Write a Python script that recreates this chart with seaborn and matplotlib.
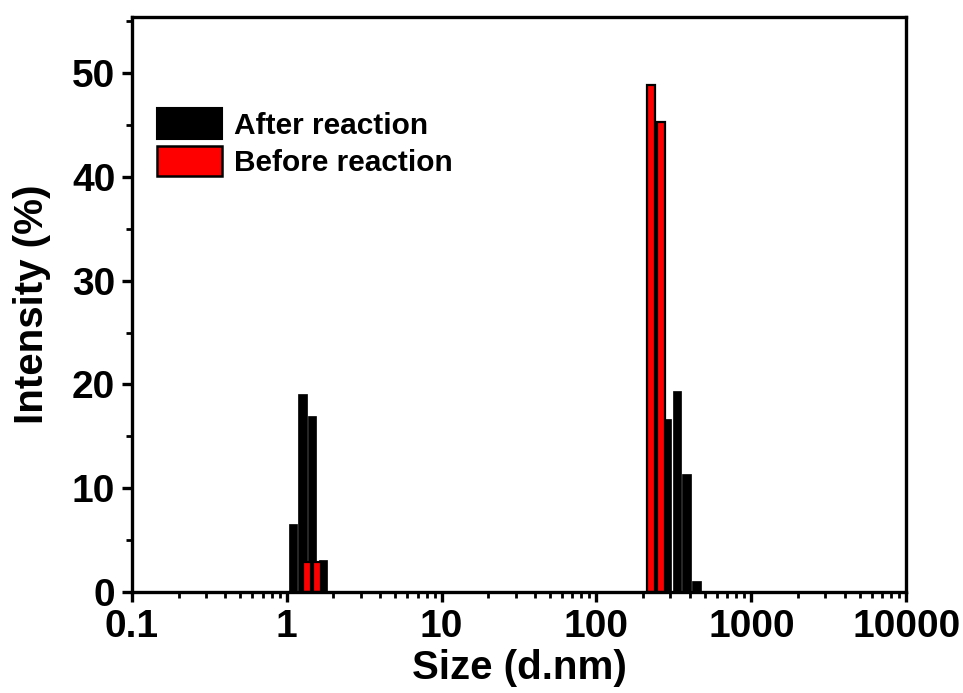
import matplotlib
matplotlib.use("Agg")
import matplotlib.pyplot as plt
import seaborn as sns
import pandas as pd
from matplotlib.patches import Patch
from matplotlib.ticker import FixedLocator, FixedFormatter, NullFormatter, LogLocator, MultipleLocator

# ---- data ----
after_size = [1.096, 1.263, 1.455, 1.714, 245.2, 284.5, 330.1, 382.0, 441.9]
after_intensity = [6.6, 19.1, 17.0, 3.1, 6.4, 16.7, 19.4, 11.4, 1.1]
before_size = [1.35, 1.567, 225.9, 262.2]
before_intensity = [2.9, 2.9, 48.8, 45.3]
series_labels = ["After reaction", "Before reaction"]
x_ticks = [0.1, 1, 10, 100, 1000, 10000]
x_ticklabels = ["0.1", "1", "10", "100", "1000", "10000"]
y_ticks = [0, 10, 20, 30, 40, 50]

sns.set_style("ticks")
plt.rcParams["font.family"] = ["Liberation Sans", "DejaVu Sans"]
plt.rcParams["font.weight"] = "bold"
for k in ["text.color", "axes.labelcolor", "xtick.color", "ytick.color", "axes.edgecolor"]:
    plt.rcParams[k] = "black"

fig = plt.figure(figsize=(9.63, 6.93), dpi=100)
ax = fig.add_axes([0.137, 0.1457, 0.804, 0.8298])
ax.set_xscale("log")

df_after = pd.DataFrame({"size": after_size, "intensity": after_intensity})
df_before = pd.DataFrame({"size": before_size, "intensity": before_intensity})

sns.barplot(data=df_after, x="size", y="intensity", native_scale=True,
            log_scale=(True, False), width=0.89, color="black",
            saturation=1, edgecolor="black", linewidth=0.5,
            errorbar=None, ax=ax)
sns.barplot(data=df_before, x="size", y="intensity", native_scale=True,
            log_scale=(True, False), width=0.78, color="#ff0000",
            saturation=1, edgecolor="black", linewidth=1.6,
            errorbar=None, ax=ax)

ax.set_xlim(0.1, 10000)
ax.set_ylim(0, 55.4)

ax.xaxis.set_major_locator(FixedLocator(x_ticks))
ax.xaxis.set_major_formatter(FixedFormatter(x_ticklabels))
ax.xaxis.set_minor_locator(LogLocator(base=10, subs=range(2, 10), numticks=20))
ax.xaxis.set_minor_formatter(NullFormatter())
ax.yaxis.set_major_locator(FixedLocator(y_ticks))
ax.yaxis.set_minor_locator(MultipleLocator(5))

for s in ax.spines.values():
    s.set_linewidth(2.4)
    s.set_color("black")
    s.set_visible(True)

ax.tick_params(axis="both", which="major", direction="out", length=7, width=2.4,
               labelsize=28, pad=5, colors="black")
ax.tick_params(axis="both", which="minor", direction="out", length=4, width=2.0,
               colors="black")
for lab in ax.get_xticklabels() + ax.get_yticklabels():
    lab.set_fontweight("bold")

ax.set_xlabel("Size (d.nm)", fontsize=29, fontweight="bold", labelpad=3, color="black")
ax.set_ylabel("Intensity (%)", fontsize=29, fontweight="bold", labelpad=15, color="black")

handles = [Patch(facecolor="black", edgecolor="black", linewidth=1.5),
           Patch(facecolor="#ff0000", edgecolor="black", linewidth=1.8)]
leg = ax.legend(handles, series_labels, loc="upper left",
                bbox_to_anchor=(0.033, 0.841), frameon=False,
                prop={"size": 21.5, "weight": "bold"},
                handlelength=2.17, handleheight=1.2, handletextpad=0.4,
                labelspacing=0.2, borderaxespad=0, borderpad=0)
for t in leg.get_texts():
    t.set_color("black")

fig.savefig("out.png", dpi=100)
